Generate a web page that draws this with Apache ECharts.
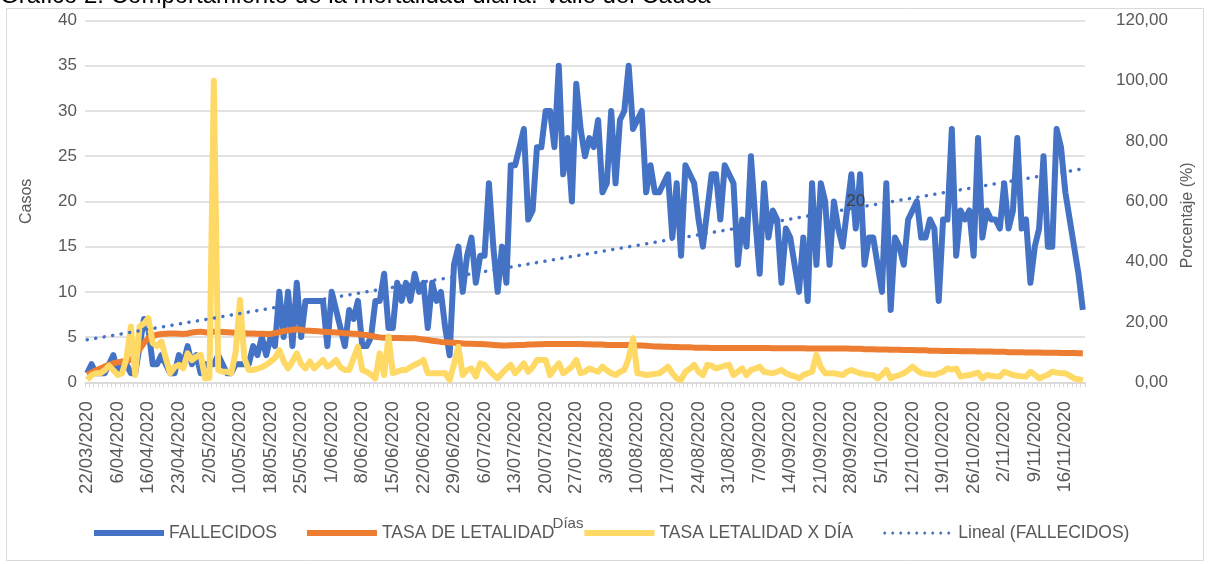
<!DOCTYPE html>
<html>
<head>
<meta charset="utf-8">
<script src="https://cdn.jsdelivr.net/npm/echarts@6/dist/echarts.min.js"></script>
<style>
  html, body { margin: 0; padding: 0; background: #fff; }
  #main { width: 1209px; height: 564px; }
</style>
</head>
<body>
<div id="main"></div>
<script>
// fechas: al inicio faltan días en el registro
const fechasIniciales = [
  "22/03/2020", "24/03/2020", "26/03/2020", "28/03/2020", "31/03/2020", "2/04/2020", "4/04/2020",
  "6/04/2020", "7/04/2020", "9/04/2020", "10/04/2020", "12/04/2020", "13/04/2020", "15/04/2020",
  "16/04/2020", "17/04/2020", "18/04/2020", "19/04/2020", "20/04/2020", "21/04/2020", "22/04/2020",
  "23/04/2020", "24/04/2020", "25/04/2020", "27/04/2020", "28/04/2020", "29/04/2020", "30/04/2020",
  "2/05/2020", "3/05/2020", "4/05/2020", "5/05/2020", "6/05/2020", "7/05/2020", "8/05/2020",
  "10/05/2020", "11/05/2020", "12/05/2020", "13/05/2020", "14/05/2020", "15/05/2020", "16/05/2020",
  "18/05/2020", "19/05/2020", "20/05/2020", "21/05/2020", "22/05/2020", "23/05/2020", "24/05/2020"
];
// desde el 25/05 hasta el 20/11 hay registro diario
const inicioDiario = "2020-05-25";
const finDiario = "2020-11-20";

const fallecidos = [
  1, 2, 1, 1, 1, 2, 3, 1, 2, 2,
  1, 1, 4, 7, 6, 2, 2, 3, 2, 1,
  1, 3, 2, 4, 2, 3, 1, 2, 2, 2,
  3, 2, 1, 1, 2, 2, 2, 2, 4, 3,
  5, 3, 5, 4, 10, 5, 10, 4, 11, 5,
  9, 9, 9, 9, 9, 4, 10, 8, 6, 4,
  8, 7, 9, 4, 4, 5, 9, 9, 12, 6,
  6, 11, 9, 11, 9, 12, 10, 11, 6, 11,
  9, 10, 6, 3, 13, 15, 10, 14, 16, 11,
  14, 14, 22, 15, 10, 15, 11, 24, 24, 26,
  28, 18, 19, 26, 26, 30, 30, 26, 35, 23,
  27, 20, 33, 28, 25, 27, 26, 29, 21, 22,
  30, 22, 29, 30, 35, 28, 29, 30, 21, 24,
  21, 21, 22, 23, 16, 22, 14, 24, 23, 22,
  18, 15, 19, 23, 23, 18, 24, 23, 22, 13,
  18, 15, 25, 18, 12, 22, 16, 19, 18, 11,
  17, 16, 13, 10, 16, 9, 22, 13, 22, 20,
  13, 20, 17, 15, 19, 23, 17, 23, 13, 16,
  16, 13, 10, 22, 8, 16, 15, 13, 18, 19,
  20, 16, 16, 18, 17, 9, 18, 18, 28, 14,
  19, 18, 19, 14, 27, 16, 19, 18, 18, 17,
  22, 17, 19, 27, 17, 18, 11, 15, 17, 25,
  15, 15, 28, 26, 21, 18, 15, 12, 8
];

const tasaLetalidad = [
  2.5, 3.2, 4, 4.6, 5.2, 5.8, 6.3, 6.6, 6.9, 7,
  7.5, 9, 11, 13, 14.6, 15.3, 15.8, 16, 16.1, 16.2,
  16.2, 16.1, 16, 16.2, 16.5, 16.7, 16.8, 16.6, 16.4, 16.8,
  16.8, 16.7, 16.6, 16.5, 16.4, 16.4, 16.3, 16.2, 16.2, 16.1,
  16.1, 16, 16, 16.3, 16.6, 17, 17.2, 17.4, 17.6, 17.4,
  17.2, 17.1, 17, 16.9, 16.8, 16.7, 16.6, 16.5, 16.4, 16.3,
  16.2, 16.1, 16, 15.8, 15.7, 15.4, 15.1, 14.9, 14.8, 14.8,
  14.7, 14.7, 14.7, 14.6, 14.6, 14.6, 14.4, 14.2, 14, 13.8,
  13.6, 13.4, 13.3, 13.2, 13.1, 13, 12.9, 12.8, 12.8, 12.7,
  12.7, 12.6, 12.5, 12.4, 12.3, 12.2, 12.2, 12.3, 12.3, 12.4,
  12.4, 12.5, 12.5, 12.6, 12.6, 12.7, 12.7, 12.7, 12.7, 12.7,
  12.7, 12.7, 12.7, 12.7, 12.6, 12.6, 12.5, 12.5, 12.5, 12.4,
  12.4, 12.4, 12.4, 12.4, 12.4, 12.3, 12.2, 12.2, 12.1, 12,
  11.9, 11.9, 11.8, 11.8, 11.7, 11.7, 11.6, 11.6, 11.6, 11.5,
  11.5, 11.5, 11.5, 11.4, 11.4, 11.4, 11.4, 11.4, 11.4, 11.4,
  11.4, 11.4, 11.4, 11.4, 11.4, 11.4, 11.4, 11.3, 11.3, 11.3,
  11.3, 11.3, 11.3, 11.3, 11.3, 11.2, 11.2, 11.2, 11.2, 11.2,
  11.2, 11.2, 11.2, 11.2, 11.2, 11.1, 11.1, 11.1, 11, 11,
  11, 10.9, 10.9, 10.9, 10.8, 10.8, 10.8, 10.7, 10.7, 10.7,
  10.6, 10.6, 10.6, 10.5, 10.5, 10.5, 10.4, 10.4, 10.4, 10.4,
  10.3, 10.3, 10.3, 10.3, 10.2, 10.2, 10.2, 10.2, 10.1, 10.1,
  10.1, 10, 10, 10, 10, 9.9, 9.9, 9.9, 9.9, 9.8,
  9.8, 9.8, 9.8, 9.7, 9.7, 9.7, 9.7, 9.6, 9.6
];

const tasaDia = [
  0.8, 2.4, 3, 3, 4, 5.5, 4, 2.4, 3, 8,
  18.5, 2.4, 18.5, 19.5, 21.3, 13, 12, 13.5, 8, 3,
  5, 5.8, 4.6, 9.6, 7.4, 8.5, 9.1, 1.3, 1.5, 100,
  4.1, 3.5, 3.5, 3, 10, 27.3, 8, 4.1, 4.1, 4.5,
  5, 5.8, 6.9, 8, 10.7, 7, 4.6, 7, 9.6, 6,
  4.6, 6.9, 4.6, 6, 7.4, 5.2, 6, 7.4, 5, 4.1,
  4.1, 8, 11.8, 4.1, 3.5, 2.5, 1.3, 9.6, 2.4, 15.2,
  3, 3.5, 4.1, 4.1, 5, 5.8, 6.5, 7.4, 3, 3,
  3, 3, 3, 0.8, 6, 11.8, 2.4, 4, 4.6, 1.9,
  6.3, 5.8, 4, 2.5, 1.3, 3, 4.5, 5.8, 3, 4.5,
  6.3, 3.5, 5, 7.4, 7.4, 7.4, 2.4, 4.5, 6.3, 3,
  4, 5.2, 7.4, 3, 3.5, 4.6, 4, 3.5, 5.2, 4,
  3, 2.4, 3.5, 4.1, 8, 14.6, 3, 2.8, 2.4, 2.6,
  2.8, 3, 4, 5.2, 3, 1.3, 0.8, 3.5, 4.5, 5.8,
  3.5, 2.4, 5.8, 5.5, 4.6, 5, 5.5, 5.8, 2.4, 3.5,
  4.6, 2.4, 4.1, 4.5, 5.2, 3.5, 3.2, 3, 3.5, 4.1,
  3, 2.4, 2, 1.3, 2.4, 3, 3.5, 9.1, 5, 3,
  3, 3, 2.7, 2.4, 3.5, 4.1, 3.5, 3, 2.7, 2.5,
  2.4, 1.3, 2.5, 4.1, 1.3, 2, 2.4, 3, 4, 5.2,
  4, 3, 2.8, 2.6, 2.4, 3, 3.5, 4.6, 4.2, 4.6,
  1.9, 2.2, 2.4, 2.8, 3.2, 1.3, 2.4, 2.2, 2, 1.9,
  3.5, 3, 2.4, 2.2, 2, 1.9, 3.5, 2.5, 1.3, 1.9,
  2.5, 3.5, 3.2, 3, 3, 2.2, 1.3, 1, 0.6
];

// línea de tendencia (extremos)
const tendenciaInicio = 4.7;
const tendenciaFin = 23.6;
const etiquetaTendencia = { indice: 176, valor: 20, texto: "20" };

const ticksCasos = [0, 40, 5];
const ticksPorcentaje = [0, 120, 20];

// armar eje de fechas
const fechas = fechasIniciales.slice();
let d = new Date(inicioDiario + "T00:00:00Z");
const fin = new Date(finDiario + "T00:00:00Z");
while (d <= fin) {
  const mm = String(d.getUTCMonth() + 1).padStart(2, "0");
  fechas.push(d.getUTCDate() + "/" + mm + "/" + d.getUTCFullYear());
  d = new Date(d.getTime() + 86400000);
}

const tendencia = fechas.map((f, i) =>
  i === 0 ? tendenciaInicio : i === fechas.length - 1 ? tendenciaFin : null
);

// icono punteado para la leyenda de la tendencia (caja de 70x6)
let puntos = "path://M0,0 M70,6 ";
for (let k = 0; k < 9; k++) {
  const cx = 1.5 + 8 * k;
  puntos += "M" + (cx - 1.5) + ",3 A1.5,1.5 0 1,0 " + (cx + 1.5) + ",3 A1.5,1.5 0 1,0 " + (cx - 1.5) + ",3 Z ";
}

const fuente = "Liberation Sans";
const gris = "#595959";

const chart = echarts.init(document.getElementById("main"));
chart.setOption({
  animation: false,
  textStyle: { fontFamily: fuente },
  title: {
    text: "Gráfico 2. Comportamiento de la mortalidad diaria. Valle del Cauca",
    left: 0,
    top: -16,
    padding: 0,
    textStyle: { fontSize: 24, fontWeight: "normal", color: "#000", fontFamily: fuente }
  },
  graphic: [
    {
      type: "rect",
      shape: { x: 6.5, y: 8.5, width: 1197, height: 552 },
      style: { fill: "none", stroke: "#d9d9d9", lineWidth: 1 },
      silent: true,
      z: -1
    }
  ],
  grid: { left: 85, right: 124, top: 20.5, bottom: 181.7 },
  legend: {
    left: 89,
    top: 519,
    itemWidth: 70,
    itemHeight: 6,
    itemGap: 30,
    textStyle: { fontSize: 17.5, color: gris, fontFamily: fuente },
    data: [
      { name: "FALLECIDOS", icon: "rect", itemStyle: { color: "#4472C4" } },
      { name: "TASA DE LETALIDAD", icon: "rect", itemStyle: { color: "#ED7D31" } },
      { name: "TASA LETALIDAD X DÍA", icon: "rect", itemStyle: { color: "#FFD966" } },
      { name: "Lineal (FALLECIDOS)", icon: puntos, itemStyle: { color: "#4472C4" } }
    ]
  },
  xAxis: {
    type: "category",
    data: fechas,
    boundaryGap: true,
    name: "Días",
    nameLocation: "middle",
    nameGap: 134,
    nameTextStyle: { fontSize: 15, color: gris, padding: [0, 34, 0, 0] },
    axisLine: { lineStyle: { color: "#d9d9d9", width: 1.5 } },
    axisTick: { show: true, interval: 0, length: 5, lineStyle: { color: "#d9d9d9" } },
    axisLabel: { interval: 6, rotate: 90, fontSize: 18.5, color: gris, margin: 19 }
  },
  yAxis: [
    {
      type: "value",
      min: ticksCasos[0],
      max: ticksCasos[1],
      interval: ticksCasos[2],
      name: "Casos",
      nameLocation: "middle",
      nameGap: 50,
      nameTextStyle: { fontSize: 16, color: gris },
      axisLine: { show: false },
      axisTick: { show: false },
      axisLabel: { fontSize: 17, color: gris, margin: 8 },
      splitLine: { lineStyle: { color: "#d9d9d9", width: 1.5 } }
    },
    {
      type: "value",
      min: ticksPorcentaje[0],
      max: ticksPorcentaje[1],
      interval: ticksPorcentaje[2],
      name: "Porcentaje (%)",
      nameLocation: "middle",
      nameGap: 95,
      nameTextStyle: { fontSize: 16, color: gris, padding: [0, 28, 0, 0] },
      axisLine: { show: false },
      axisTick: { show: false },
      splitLine: { show: false },
      axisLabel: {
        fontSize: 17,
        color: gris,
        align: "right",
        margin: 83,
        formatter: (v) => v.toFixed(2).replace(".", ",")
      }
    }
  ],
  series: [
    {
      name: "FALLECIDOS",
      type: "line",
      yAxisIndex: 0,
      data: fallecidos,
      symbol: "none",
      lineStyle: { color: "#4472C4", width: 6, join: "round" },
      itemStyle: { color: "#4472C4" },
      z: 2
    },
    {
      name: "TASA DE LETALIDAD",
      type: "line",
      yAxisIndex: 1,
      data: tasaLetalidad,
      symbol: "none",
      lineStyle: { color: "#ED7D31", width: 6, join: "round" },
      itemStyle: { color: "#ED7D31" },
      z: 3
    },
    {
      name: "TASA LETALIDAD X DÍA",
      type: "line",
      yAxisIndex: 1,
      data: tasaDia,
      symbol: "none",
      lineStyle: { color: "#FFD966", width: 6, join: "round" },
      itemStyle: { color: "#FFD966" },
      z: 4
    },
    {
      name: "Lineal (FALLECIDOS)",
      type: "line",
      yAxisIndex: 0,
      data: tendencia,
      connectNulls: true,
      symbol: "none",
      lineStyle: { color: "#4472C4", width: 3.5, type: [0.1, 8.5], cap: "round" },
      itemStyle: { color: "#4472C4" },
      z: 5,
      markPoint: {
        symbol: "circle",
        symbolSize: 0,
        data: [
          {
            coord: [fechas[etiquetaTendencia.indice], etiquetaTendencia.valor],
            label: {
              show: true,
              position: "inside",
              formatter: etiquetaTendencia.texto,
              fontSize: 17,
              color: "#404040"
            }
          }
        ]
      }
    }
  ]
});
</script>
</body>
</html>
